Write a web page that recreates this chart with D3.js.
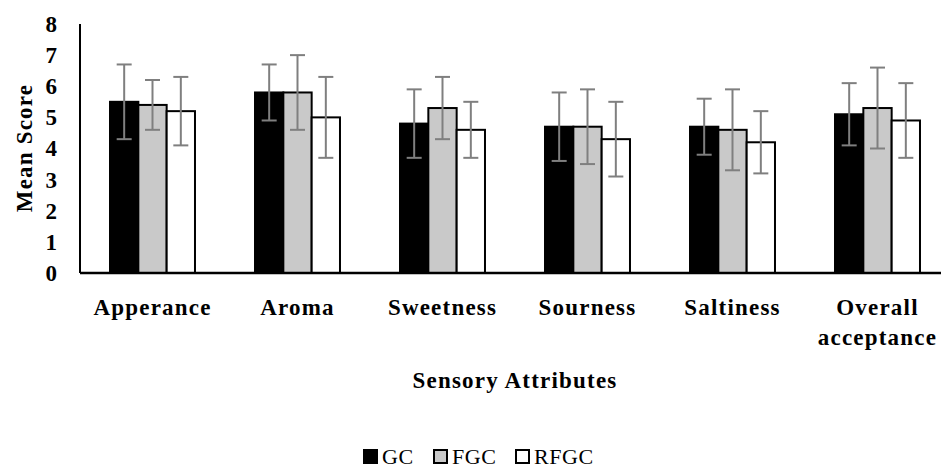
<!DOCTYPE html>
<html>
<head>
<meta charset="utf-8">
<script src="https://cdn.jsdelivr.net/npm/d3@7"></script>
<style>
  html, body { margin: 0; padding: 0; background: #fff; }
  svg { display: block; }
  svg text { font-family: "Liberation Serif", "Times New Roman", Times, serif !important; }
</style>
</head>
<body>
<script>
const categories = ["Apperance", "Aroma", "Sweetness", "Sourness", "Saltiness", "Overall acceptance"];
const seriesNames = ["GC", "FGC", "RFGC"];
const gcMeans   = [5.5, 5.8, 4.8, 4.7, 4.7, 5.1];
const fgcMeans  = [5.4, 5.8, 5.3, 4.7, 4.6, 5.3];
const rfgcMeans = [5.2, 5.0, 4.6, 4.3, 4.2, 4.9];
const gcErr   = [1.2, 0.9, 1.1, 1.1, 0.9, 1.0];
const fgcErr  = [0.8, 1.2, 1.0, 1.2, 1.3, 1.3];
const rfgcErr = [1.1, 1.3, 0.9, 1.2, 1.0, 1.2];
const yTicks = [0, 1, 2, 3, 4, 5, 6, 7, 8];
const fills = ["#000000", "#c9c9c9", "#ffffff"];

const W = 941, H = 469;
const svg = d3.select("body").append("svg").attr("width", W).attr("height", H);

const means = [gcMeans, fgcMeans, rfgcMeans];
const errs = [gcErr, fgcErr, rfgcErr];

const x0 = d3.scaleBand().domain(categories).range([80, 950]).paddingInner(0.414).paddingOuter(0.207);
const x1 = d3.scaleBand().domain(seriesNames).range([0, x0.bandwidth()]);
const y = d3.scaleLinear().domain([0, 8]).range([273, 24]);

// Y axis
const yAxis = d3.axisLeft(y).tickValues(yTicks).tickSize(0).tickPadding(23).tickFormat(d3.format("d"));
const gy = svg.append("g").attr("transform", "translate(80,0)").call(yAxis);
gy.select(".domain").attr("stroke", "#000").attr("stroke-width", 2).attr("d", "M0," + y(8) + "V" + y(0));
gy.selectAll("text").attr("font-size", 23).attr("font-weight", "bold").attr("fill", "#000");

// Bars
const rows = categories.map((c, i) => ({ c, vals: seriesNames.map((s, j) => ({ s, v: means[j][i], e: errs[j][i], j })) }));
const groups = svg.append("g").selectAll("g").data(rows).join("g")
  .attr("transform", d => "translate(" + x0(d.c) + ",0)");

groups.selectAll("rect").data(d => d.vals).join("rect")
  .attr("x", d => x1(d.s))
  .attr("y", d => y(d.v))
  .attr("width", x1.bandwidth())
  .attr("height", d => y(0) - y(d.v))
  .attr("fill", d => fills[d.j])
  .attr("stroke", "#000")
  .attr("stroke-width", 2);

// Error bars
const eb = groups.selectAll("g.err").data(d => d.vals).join("g").attr("class", "err")
  .attr("stroke", "#7f7f7f").attr("stroke-width", 2);
const cx = d => x1(d.s) + x1.bandwidth() / 2;
eb.append("line").attr("x1", cx).attr("x2", cx).attr("y1", d => y(d.v + d.e)).attr("y2", d => y(d.v - d.e));
eb.append("line").attr("x1", d => cx(d) - 7.5).attr("x2", d => cx(d) + 7.5).attr("y1", d => y(d.v + d.e)).attr("y2", d => y(d.v + d.e));
eb.append("line").attr("x1", d => cx(d) - 7.5).attr("x2", d => cx(d) + 7.5).attr("y1", d => y(d.v - d.e)).attr("y2", d => y(d.v - d.e));

// X axis line
svg.append("line").attr("x1", 80).attr("x2", W).attr("y1", y(0)).attr("y2", y(0))
  .attr("stroke", "#000").attr("stroke-width", 2.5);

// X category labels
const xl = svg.append("g").selectAll("text").data(categories).join("text")
  .attr("x", d => x0(d) + x0.bandwidth() / 2)
  .attr("y", 315)
  .attr("text-anchor", "middle")
  .attr("letter-spacing", 1.2)
  .attr("font-size", 23).attr("font-weight", "bold").attr("fill", "#000");
xl.each(function(d) {
  const words = d.split(" ");
  const t = d3.select(this);
  if (words.length > 1) {
    words.forEach((w, k) => t.append("tspan").attr("x", t.attr("x")).attr("dy", k === 0 ? 0 : 30).text(w));
  } else t.text(d);
});

// Axis titles
svg.append("text").attr("x", 515).attr("y", 388).attr("text-anchor", "middle")
  .attr("letter-spacing", 1.2)
  .attr("font-size", 23).attr("font-weight", "bold").text("Sensory Attributes");
svg.append("text").attr("transform", "translate(32,148) rotate(-90)").attr("text-anchor", "middle")
  .attr("letter-spacing", 1.2)
  .attr("font-size", 23).attr("font-weight", "bold").text("Mean Score");

// Legend
const legX = [364, 434, 516];
const leg = svg.append("g").selectAll("g").data(seriesNames).join("g")
  .attr("transform", (d, i) => "translate(" + legX[i] + ",450)");
leg.append("rect").attr("x", 0).attr("y", 0).attr("width", 13).attr("height", 13)
  .attr("fill", (d, i) => fills[i]).attr("stroke", "#000").attr("stroke-width", 2);
leg.append("text").attr("x", 18).attr("y", 14).attr("font-size", 22).attr("letter-spacing", 0.6)
  .attr("fill", "#000").text(d => d);
</script>
</body>
</html>
